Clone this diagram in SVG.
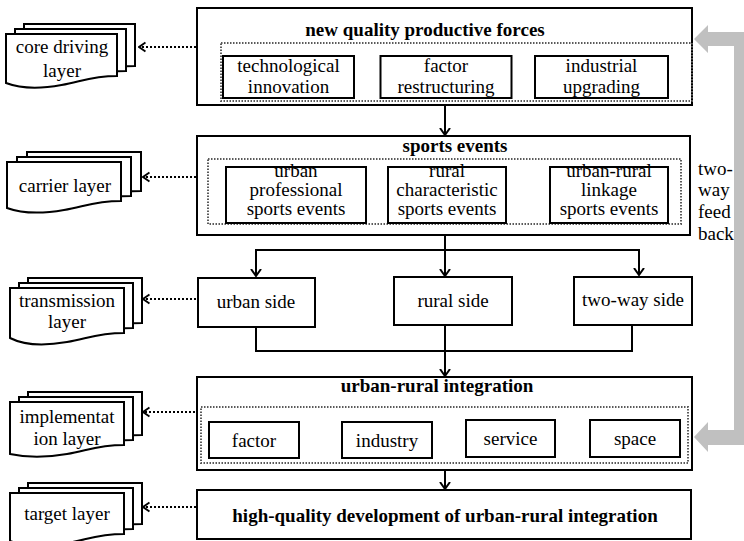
<svg xmlns="http://www.w3.org/2000/svg" width="744" height="541" viewBox="0 0 744 541">
<style>
.box{fill:#fff;stroke:#000;stroke-width:2}
.dot{fill:none;stroke:#5a5a5a;stroke-width:2;stroke-dasharray:1.5 1.5}
.doc{fill:#fff;stroke:#000;stroke-width:2}
.conn{fill:none;stroke:#000;stroke-width:2}
.dl{fill:none;stroke:#000;stroke-width:2;stroke-dasharray:2 2}
</style>
<defs>
<marker id="ah" viewBox="0 0 8 12" refX="7.5" refY="6" markerWidth="8" markerHeight="12" markerUnits="userSpaceOnUse" orient="auto">
<path d="M0.5,1 L7.5,6 L0.5,11" fill="none" stroke="#000" stroke-width="2"/>
</marker>
<marker id="dh" viewBox="0 0 8 12" refX="7" refY="6" markerWidth="8" markerHeight="12" markerUnits="userSpaceOnUse" orient="auto">
<path d="M0.5,1.5 L7,6 L0.5,10.5" fill="none" stroke="#000" stroke-width="2"/>
</marker>
</defs>

<g id="connectors">
<path class="conn" d="M445,105 V135" marker-end="url(#ah)"/>
<path class="conn" d="M445,235 V250 H256 V276" marker-end="url(#ah)"/>
<path class="conn" d="M445,250 V276" marker-end="url(#ah)"/>
<path class="conn" d="M445,250 H639 V275" marker-end="url(#ah)"/>
<path class="conn" d="M256,327 V351 H632 V325"/>
<path class="conn" d="M445,325 V376" marker-end="url(#ah)"/>
<path class="conn" d="M445,470 V489" marker-end="url(#ah)"/>
<path class="dl" d="M196,47 H139" marker-end="url(#dh)"/>
<path class="dl" d="M196,177 H143" marker-end="url(#dh)"/>
<path class="dl" d="M196,299 H143" marker-end="url(#dh)"/>
<path class="dl" d="M199,412 H143" marker-end="url(#dh)"/>
<path class="dl" d="M196,507 H143" marker-end="url(#dh)"/>
<path fill="#c0c0c0" d="M694,39 L708,25 L708,32 L744,32 L744,445 L708,445 L708,452 L694,437 L708,422 L708,430 L734,430 L734,46 L708,46 L708,53 Z"/>
</g>

<g id="layer-core">
<path class="doc" d="M24,24 h111 v42 c-26.6,0 -36.6,6 -55.5,9 c-22.2,4 -42.2,3 -55.5,-2 z"/>
<path class="doc" d="M15,29 h111 v42 c-26.6,0 -36.6,6 -55.5,9 c-22.2,4 -42.2,3 -55.5,-2 z"/>
<path class="doc" d="M6,34 h111 v42 c-26.6,0 -36.6,6 -55.5,9 c-22.2,4 -42.2,3 -55.5,-2 z"/>
<text font-family="Liberation Serif" font-size="19" text-anchor="middle" x="62" y="53">core driving</text>
<text font-family="Liberation Serif" font-size="19" text-anchor="middle" x="62" y="77">layer</text>
</g>
<g id="layer-carrier">
<path class="doc" d="M27,152 h114 v39 c-27.4,0 -37.6,6 -57,9 c-22.8,4 -43.3,3 -57,-2 z"/>
<path class="doc" d="M17,157 h114 v39 c-27.4,0 -37.6,6 -57,9 c-22.8,4 -43.3,3 -57,-2 z"/>
<path class="doc" d="M7,162 h114 v39 c-27.4,0 -37.6,6 -57,9 c-22.8,4 -43.3,3 -57,-2 z"/>
<text font-family="Liberation Serif" font-size="19" text-anchor="middle" x="65" y="192">carrier layer</text>
</g>
<g id="layer-transmission">
<path class="doc" d="M28,278 h114 v45 c-27.4,0 -37.6,6 -57,9 c-22.8,4 -43.3,3 -57,-4 z"/>
<path class="doc" d="M19,283 h114 v45 c-27.4,0 -37.6,6 -57,9 c-22.8,4 -43.3,3 -57,-4 z"/>
<path class="doc" d="M10,288 h114 v45 c-27.4,0 -37.6,6 -57,9 c-22.8,4 -43.3,3 -57,-4 z"/>
<text font-family="Liberation Serif" font-size="19" text-anchor="middle" x="67" y="307">transmission</text>
<text font-family="Liberation Serif" font-size="19" text-anchor="middle" x="67" y="328">layer</text>
</g>
<g id="layer-implementation">
<path class="doc" d="M28,392 h114 v43 c-27.4,0 -37.6,6 -57,9 c-22.8,4 -43.3,3 -57,0 z"/>
<path class="doc" d="M19,397 h114 v43 c-27.4,0 -37.6,6 -57,9 c-22.8,4 -43.3,3 -57,0 z"/>
<path class="doc" d="M10,402 h114 v43 c-27.4,0 -37.6,6 -57,9 c-22.8,4 -43.3,3 -57,0 z"/>
<text font-family="Liberation Serif" font-size="19" text-anchor="middle" x="67" y="423">implementat</text>
<text font-family="Liberation Serif" font-size="19" text-anchor="middle" x="67" y="445">ion layer</text>
</g>
<g id="layer-target">
<path class="doc" d="M28,483 h114 v41 c-27.4,0 -37.6,6 -57,9 c-22.8,4 -43.3,3 -57,-2 z"/>
<path class="doc" d="M19,488 h114 v41 c-27.4,0 -37.6,6 -57,9 c-22.8,4 -43.3,3 -57,-2 z"/>
<path class="doc" d="M10,493 h114 v41 c-27.4,0 -37.6,6 -57,9 c-22.8,4 -43.3,3 -57,-2 z"/>
<text font-family="Liberation Serif" font-size="19" text-anchor="middle" x="67" y="520">target layer</text>
</g>

<g id="nqpf">
<rect class="box" x="197" y="8" width="495" height="97"/>
<text font-family="Liberation Serif" font-size="19" font-weight="bold" text-anchor="middle" x="425" y="36">new quality productive forces</text>
<rect class="dot" x="221" y="43" width="471" height="58"/>
<rect class="box" x="223" y="56" width="131" height="42"/>
<text font-family="Liberation Serif" font-size="19" text-anchor="middle" x="288.5" y="72">technological</text>
<text font-family="Liberation Serif" font-size="19" text-anchor="middle" x="288.5" y="93">innovation</text>
<rect class="box" x="380.5" y="56" width="131" height="42"/>
<text font-family="Liberation Serif" font-size="19" text-anchor="middle" x="446" y="72">factor</text>
<text font-family="Liberation Serif" font-size="19" text-anchor="middle" x="446" y="93">restructuring</text>
<rect class="box" x="535" y="56" width="133" height="42"/>
<text font-family="Liberation Serif" font-size="19" text-anchor="middle" x="601.5" y="72">industrial</text>
<text font-family="Liberation Serif" font-size="19" text-anchor="middle" x="601.5" y="93">upgrading</text>
</g>

<g id="sports-events">
<rect class="box" x="197" y="136" width="493" height="99"/>
<text font-family="Liberation Serif" font-size="19" font-weight="bold" text-anchor="middle" x="455" y="152">sports events</text>
<rect class="dot" x="208" y="159" width="473" height="65"/>
<rect class="box" x="226" y="167" width="140" height="56"/>
<text font-family="Liberation Serif" font-size="19" text-anchor="middle" x="296" y="177">urban</text>
<text font-family="Liberation Serif" font-size="19" text-anchor="middle" x="296" y="196">professional</text>
<text font-family="Liberation Serif" font-size="19" text-anchor="middle" x="296" y="215">sports events</text>
<rect class="box" x="388" y="167" width="118" height="56"/>
<text font-family="Liberation Serif" font-size="19" text-anchor="middle" x="447" y="177">rural</text>
<text font-family="Liberation Serif" font-size="19" text-anchor="middle" x="447" y="196">characteristic</text>
<text font-family="Liberation Serif" font-size="19" text-anchor="middle" x="447" y="215">sports events</text>
<rect class="box" x="550" y="167" width="118" height="56"/>
<text font-family="Liberation Serif" font-size="19" text-anchor="middle" x="609" y="177">urban-rural</text>
<text font-family="Liberation Serif" font-size="19" text-anchor="middle" x="609" y="196">linkage</text>
<text font-family="Liberation Serif" font-size="19" text-anchor="middle" x="609" y="215">sports events</text>
</g>

<g id="urban-side">
<rect class="box" x="198" y="278" width="117" height="49"/>
<text font-family="Liberation Serif" font-size="19" text-anchor="middle" x="256" y="308">urban side</text>
</g>
<g id="rural-side">
<rect class="box" x="394" y="277" width="118" height="48"/>
<text font-family="Liberation Serif" font-size="19" text-anchor="middle" x="453" y="307">rural side</text>
</g>
<g id="two-way-side">
<rect class="box" x="574" y="277" width="118" height="48"/>
<text font-family="Liberation Serif" font-size="19" text-anchor="middle" x="633" y="306">two-way side</text>
</g>

<g id="urban-rural-integration">
<rect class="box" x="197" y="377" width="495" height="93"/>
<text font-family="Liberation Serif" font-size="19" font-weight="bold" text-anchor="middle" x="437" y="392">urban-rural integration</text>
<rect class="dot" x="201" y="407" width="487" height="56"/>
<rect class="box" x="209" y="422" width="90" height="36"/>
<text font-family="Liberation Serif" font-size="19" text-anchor="middle" x="254" y="447">factor</text>
<rect class="box" x="342" y="422" width="90" height="36"/>
<text font-family="Liberation Serif" font-size="19" text-anchor="middle" x="387" y="447">industry</text>
<rect class="box" x="466" y="420" width="89" height="37"/>
<text font-family="Liberation Serif" font-size="19" text-anchor="middle" x="510.5" y="445">service</text>
<rect class="box" x="590" y="420" width="90" height="37"/>
<text font-family="Liberation Serif" font-size="19" text-anchor="middle" x="635" y="445">space</text>
</g>

<g id="high-quality">
<rect class="box" x="197" y="490" width="494" height="49"/>
<text font-family="Liberation Serif" font-size="19" font-weight="bold" text-anchor="middle" x="445" y="522">high-quality development of urban-rural integration</text>
</g>

<g id="feedback-label">
<text font-family="Liberation Serif" font-size="19" x="698" y="175">two-</text>
<text font-family="Liberation Serif" font-size="19" x="698" y="196">way</text>
<text font-family="Liberation Serif" font-size="19" x="698" y="218">feed</text>
<text font-family="Liberation Serif" font-size="19" x="698" y="240">back</text>
</g>
</svg>
